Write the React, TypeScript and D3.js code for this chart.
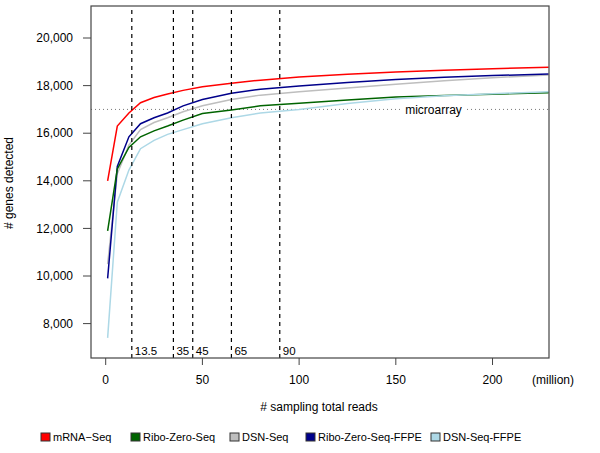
import React from "react";
import * as d3 from "d3";

const readsX = [1, 6, 12, 18, 25, 32, 40, 50, 65, 80, 100, 125, 150, 175, 200, 229];
const mrnaSeq = [14000, 16300, 16850, 17280, 17500, 17650, 17800, 17950, 18100, 18230, 18360, 18480, 18570, 18650, 18710, 18770];
const riboZeroSeq = [11900, 14500, 15400, 15850, 16100, 16300, 16550, 16830, 16980, 17150, 17260, 17400, 17520, 17580, 17640, 17700];
const dsnSeq = [10500, 14300, 15500, 16150, 16450, 16650, 16900, 17150, 17420, 17600, 17740, 17900, 18060, 18200, 18330, 18450];
const riboZeroSeqFFPE = [9900, 14600, 15850, 16400, 16650, 16850, 17150, 17420, 17680, 17850, 17980, 18130, 18260, 18350, 18420, 18490];
const dsnSeqFFPE = [7400, 13100, 14450, 15350, 15700, 15950, 16150, 16400, 16650, 16850, 17000, 17250, 17450, 17570, 17660, 17740];

const seriesNames = ["mRNA\u2212Seq", "Ribo-Zero-Seq", "DSN-Seq", "Ribo-Zero-Seq-FFPE", "DSN-Seq-FFPE"];
const seriesColors = ["#ff0000", "#006400", "#bebebe", "#00008b", "#add8e6"];
const seriesValues = [mrnaSeq, riboZeroSeq, dsnSeq, riboZeroSeqFFPE, dsnSeqFFPE];
const drawOrder = [0, 2, 3, 1, 4];

const cutoffs = [13.5, 35, 45, 65, 90];
const cutoffLabels = ["13.5", "35", "45", "65", "90"];
const microarrayLevel = 17000;
const yTicks = [8000, 10000, 12000, 14000, 16000, 18000, 20000];
const xTicks = [0, 50, 100, 150, 200];

const legendTextX = [53, 143, 242, 318, 443];

const FONT = "'Liberation Sans', Arial, Helvetica, sans-serif";

export default function App() {
  const left = 91, right = 549, top = 6, bottom = 358;
  const x = d3.scaleLinear().domain([-7.6, 229.2]).range([left, right]);
  const y = d3.scaleLinear().domain([6555, 21345]).range([bottom, top]);
  const fmt = d3.format(",");

  const line = (vals: number[]) =>
    d3.line<number>().x((_, i) => x(readsX[i])).y((v) => y(v))(vals) || "";

  return (
    <svg width={600} height={453} style={{ position: "absolute", left: 0, top: 0, background: "#fff" }} fontFamily={FONT}>
      <rect x={0} y={0} width={600} height={453} fill="#fff" />
      {/* microarray dotted line */}
      <line x1={left} x2={right} y1={y(microarrayLevel)} y2={y(microarrayLevel)} stroke="#777" strokeWidth={1} strokeDasharray="1,3" />
      <rect x={403} y={y(microarrayLevel) - 7} width={61} height={14} fill="#fff" />
      <text x={433.5} y={y(microarrayLevel)} dy="0.35em" fontSize={12} textAnchor="middle" fill="#000">microarray</text>

      {/* series */}
      {drawOrder.map((k) => (
        <path key={k} d={line(seriesValues[k])} fill="none" stroke={seriesColors[k]} strokeWidth={1.5} />
      ))}

      {/* cutoff lines */}
      {cutoffs.map((c, i) => (
        <g key={c}>
          <line x1={x(c)} x2={x(c)} y1={10} y2={bottom} stroke="#000" strokeWidth={1.2} strokeDasharray="4,4" />
          <text x={x(c) + 3} y={355} fontSize={11.5} fill="#000">{cutoffLabels[i]}</text>
        </g>
      ))}

      {/* box */}
      <rect x={left} y={top} width={right - left} height={bottom - top} fill="none" stroke="#444" strokeWidth={1.2} />

      {/* y axis */}
      {yTicks.map((t) => (
        <g key={t}>
          <line x1={83} x2={left} y1={y(t)} y2={y(t)} stroke="#444" strokeWidth={1} />
          <text x={73} y={y(t)} dy="0.35em" fontSize={12} textAnchor="end" fill="#000">{fmt(t)}</text>
        </g>
      ))}
      {/* x axis */}
      {xTicks.map((t) => (
        <g key={t}>
          <line x1={x(t)} x2={x(t)} y1={bottom} y2={365} stroke="#444" strokeWidth={1} />
          <text x={x(t)} y={380} dy="0.35em" fontSize={12} textAnchor="middle" fill="#000">{t}</text>
        </g>
      ))}
      <text x={532} y={380} dy="0.35em" fontSize={12} fill="#000">(million)</text>

      <text x={319} y={407} dy="0.35em" fontSize={12} textAnchor="middle" fill="#000"># sampling total reads</text>
      <text transform={`translate(9,183) rotate(-90)`} dy="0.35em" fontSize={12} textAnchor="middle" fill="#000"># genes detected</text>

      {/* legend */}
      {seriesNames.map((n, i) => (
        <g key={n}>
          <rect x={legendTextX[i] - 12} y={433} width={9} height={8} fill={seriesColors[i]} stroke="#333" strokeWidth={1} />
          <text x={legendTextX[i]} y={437} dy="0.35em" fontSize={11} fill="#000">{n}</text>
        </g>
      ))}
    </svg>
  );
}
